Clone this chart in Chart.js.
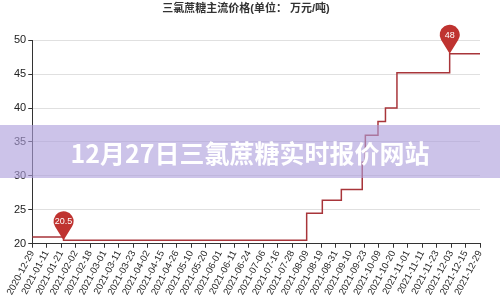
<!DOCTYPE html>
<html>
<head>
<meta charset="utf-8">
<script src="https://cdn.jsdelivr.net/npm/chart.js@4/dist/chart.umd.min.js"></script>
<style>
  html, body { margin: 0; padding: 0; background: #fff; }
  #wrap { position: relative; width: 500px; height: 305px; }
  #banner {
    position: absolute; left: 0; top: 125px; width: 500px; height: 53px;
    background: rgba(172, 158, 220, 0.62);
    display: flex; align-items: center; justify-content: center;
    color: #fff; font: bold 25px "Noto Sans CJK SC", sans-serif;
    padding-top: 1px; box-sizing: border-box;
  }
</style>
</head>
<body>
<div id="wrap">
  <canvas id="c" width="500" height="305"></canvas>
  <div id="banner">12月27日三氯蔗糖实时报价网站</div>
</div>
<script>
// Labelled dates along the x axis (evenly spaced ticks)
const tickDates = [
  '2020-12-29', '2021-01-11', '2021-01-21', '2021-02-02', '2021-02-18', '2021-03-01',
  '2021-03-11', '2021-03-23', '2021-04-02', '2021-04-15', '2021-04-26', '2021-05-10',
  '2021-05-20', '2021-06-01', '2021-06-11', '2021-06-24', '2021-07-06', '2021-07-16',
  '2021-07-28', '2021-08-09', '2021-08-19', '2021-08-31', '2021-09-10', '2021-09-23',
  '2021-10-09', '2021-10-20', '2021-11-01', '2021-11-11', '2021-11-23', '2021-12-03',
  '2021-12-15', '2021-12-29'
];

// Dates on which the mainstream price changed, and the new price (万元/吨)
const changeDates = [
  '2020-12-29', '2021-01-23', '2021-08-09', '2021-08-20', '2021-09-04', '2021-09-21',
  '2021-09-24', '2021-10-08', '2021-10-14', '2021-10-23', '2021-12-02', '2021-12-29'
];
const prices = [21, 20.5, 24.5, 26.4, 28, 32, 36, 38, 40, 45.2, 48, 48];

const yTicks = [20, 25, 30, 35, 40, 45, 50];

const tickTimes = tickDates.map(d => Date.parse(d));

// Position of a date on the tick-index axis (linear between neighbouring labels)
function datePos(d) {
  const t = Date.parse(d);
  for (let i = 0; i < tickTimes.length - 1; i++) {
    if (t >= tickTimes[i] && t <= tickTimes[i + 1]) {
      return i + (t - tickTimes[i]) / (tickTimes[i + 1] - tickTimes[i]);
    }
  }
  return t < tickTimes[0] ? 0 : tickTimes.length - 1;
}

const points = changeDates.map((d, i) => ({ x: datePos(d), y: prices[i] }));

const FONT = '"Liberation Sans", "Noto Sans CJK SC", sans-serif';
const LINE = '#a8353a';
const PIN = '#bf3330';

// Pin markers over the lowest and highest price
const pinPlugin = {
  id: 'pins',
  afterDatasetsDraw(chart) {
    const xs = chart.scales.x, ys = chart.scales.y;
    const minV = Math.min(...prices), maxV = Math.max(...prices);
    const marks = [prices.indexOf(minV), prices.indexOf(maxV)];
    const ctx = chart.ctx;
    ctx.save();
    marks.forEach(i => {
      const tx = xs.getPixelForValue(points[i].x);
      const ty = ys.getPixelForValue(points[i].y);
      const r = 10, d = 19;
      const cx = tx, cy = ty - d;
      const a = Math.acos(r / d);
      ctx.beginPath();
      ctx.arc(cx, cy, r, Math.PI / 2 + a, Math.PI / 2 - a + Math.PI * 2);
      ctx.lineTo(tx, ty);
      ctx.closePath();
      ctx.fillStyle = PIN;
      ctx.fill();
      ctx.fillStyle = '#fff';
      ctx.font = '9px ' + FONT;
      ctx.textAlign = 'center';
      ctx.textBaseline = 'middle';
      ctx.fillText(String(prices[i]), cx, cy + 0.5);
    });
    ctx.restore();
  }
};

new Chart(document.getElementById('c'), {
  type: 'line',
  data: {
    datasets: [{
      data: points,
      stepped: 'before',
      borderColor: LINE,
      borderWidth: 1.5,
      pointRadius: 0,
      fill: false
    }]
  },
  options: {
    responsive: false,
    animation: false,
    events: [],
    layout: { padding: { left: 12, right: 20, top: 0, bottom: 7 } },
    plugins: {
      legend: { display: false },
      tooltip: { enabled: false },
      title: {
        display: true,
        text: '三氯蔗糖主流价格(单位： 万元/吨)',
        color: '#333',
        font: { size: 11, weight: 'bold', family: FONT },
        padding: { top: 2, bottom: 25 }
      }
    },
    scales: {
      x: {
        type: 'linear',
        min: 0,
        max: tickDates.length - 1,
        afterBuildTicks(scale) {
          scale.ticks = tickDates.map((_, i) => ({ value: i }));
        },
        border: { color: '#333', width: 1 },
        grid: { drawOnChartArea: false, drawTicks: true, tickLength: 4, tickColor: '#333' },
        ticks: {
          autoSkip: false,
          minRotation: 62,
          maxRotation: 62,
          padding: 1,
          color: '#222',
          font: { size: 9.5, family: FONT },
          callback: v => tickDates[v]
        }
      },
      y: {
        min: yTicks[0],
        max: yTicks[yTicks.length - 1],
        afterBuildTicks(scale) {
          scale.ticks = yTicks.map(v => ({ value: v }));
        },
        border: { color: '#333', width: 1 },
        grid: { color: '#e0e0e0', tickLength: 4, tickColor: '#333' },
        ticks: {
          padding: 2,
          color: '#222',
          font: { size: 11, family: FONT }
        }
      }
    }
  },
  plugins: [pinPlugin]
});
</script>
</body>
</html>
